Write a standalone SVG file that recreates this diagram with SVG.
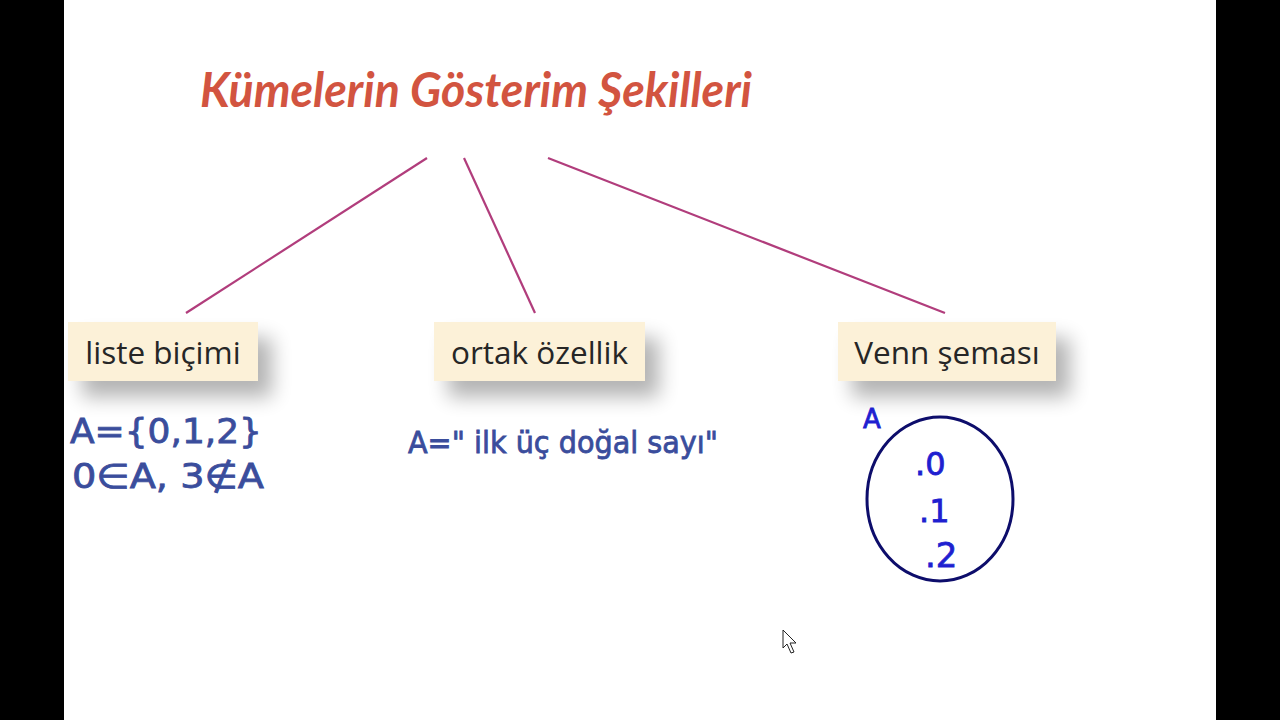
<svg xmlns="http://www.w3.org/2000/svg" width="1280" height="720" viewBox="0 0 1280 720">
  <style>
    .box { fill: #fcf1d8; }
    .lbl { font-family: "Open Sans", "Noto Sans", sans-serif; font-size: 31.5px; fill: #262626; }
    .hand { font-family: "DejaVu Sans", "Liberation Sans", sans-serif; fill: #3a4d9c; stroke: #3a4d9c; stroke-width: 0.8; }
    .venn { font-family: "DejaVu Sans", "Liberation Sans", sans-serif; fill: #1f1fd0; stroke: #1f1fd0; stroke-width: 0.8; }
    .conn { stroke: #b13d7c; stroke-width: 2.2; fill: none; }
  </style>
  <defs>
    <filter id="sh" x="-30%" y="-50%" width="170%" height="220%">
      <feGaussianBlur in="SourceAlpha" stdDeviation="10"/>
      <feOffset dx="14" dy="16" result="b"/>
      <feComponentTransfer><feFuncA type="linear" slope="0.3"/></feComponentTransfer>
      <feMerge><feMergeNode/><feMergeNode in="SourceGraphic"/></feMerge>
    </filter>
  </defs>
  <rect x="0" y="0" width="1280" height="720" fill="#000"/>
  <rect x="64" y="0" width="1152" height="720" fill="#fff"/>

  <g id="title">
    <text x="476" y="107" text-anchor="middle" font-family="Lato, 'Open Sans', sans-serif" font-style="italic" font-weight="bold" font-size="47" fill="#d25440" textLength="552" lengthAdjust="spacingAndGlyphs">Kümelerin Gösterim Şekilleri</text>
  </g>

  <g id="connectors">
    <line class="conn" x1="427" y1="158" x2="186" y2="313"/>
    <line class="conn" x1="464" y1="158" x2="535" y2="313"/>
    <line class="conn" x1="548" y1="158" x2="945" y2="313"/>
  </g>

  <g id="node-liste">
    <rect class="box" x="68" y="322" width="190" height="59" filter="url(#sh)"/>
    <text class="lbl" x="163" y="364" text-anchor="middle">liste biçimi</text>
  </g>
  <g id="node-ortak">
    <rect class="box" x="434" y="322" width="211" height="59" filter="url(#sh)"/>
    <text class="lbl" x="539.5" y="364" text-anchor="middle">ortak özellik</text>
  </g>
  <g id="node-venn">
    <rect class="box" x="838" y="322" width="218" height="59" filter="url(#sh)"/>
    <text class="lbl" x="947" y="364" text-anchor="middle">Venn şeması</text>
  </g>

  <g id="liste-content">
    <text class="hand" x="70" y="443" font-size="34" textLength="192" lengthAdjust="spacingAndGlyphs">A={0,1,2}</text>
    <text class="hand" x="72" y="488" font-size="34" textLength="192" lengthAdjust="spacingAndGlyphs">0∈A, 3∉A</text>
  </g>

  <g id="ortak-content">
    <text class="hand" x="408" y="453" font-size="30" textLength="310" lengthAdjust="spacingAndGlyphs">A=" ilk üç doğal sayı"</text>
  </g>

  <g id="venn-content">
    <text class="venn" x="863" y="428" font-size="26">A</text>
    <ellipse cx="940" cy="499" rx="73" ry="82" fill="none" stroke="#0d0d6b" stroke-width="3"/>
    <text class="venn" x="915" y="475" font-size="32">.0</text>
    <text class="venn" x="919" y="522" font-size="32">.1</text>
    <text class="venn" x="925" y="567" font-size="34">.2</text>
  </g>

  <g id="cursor">
    <path d="M783,630 L783,648 L787,644 L791,653 L794,652 L790,643 L796,643 Z" fill="#fff" stroke="#222" stroke-width="1"/>
  </g>
</svg>
